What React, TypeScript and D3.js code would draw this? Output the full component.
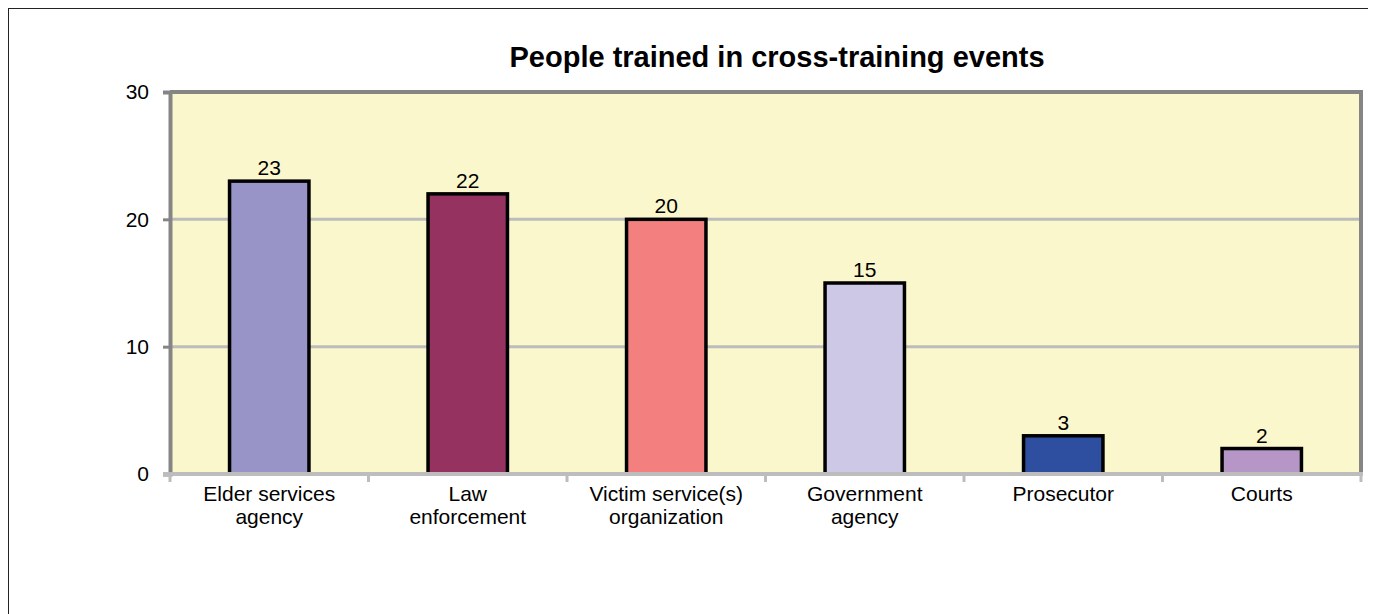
import { useEffect, useRef } from "react";
import * as d3 from "d3";

const categories = [
  "Elder services|agency",
  "Law|enforcement",
  "Victim service(s)|organization",
  "Government|agency",
  "Prosecutor",
  "Courts",
];
const values = [23, 22, 20, 15, 3, 2];
const barColors = ["#9894c8", "#95325f", "#f47f7f", "#ccc8e6", "#2e4ea0", "#b696c6"];
const yTicks = [0, 10, 20, 30];

const width = 1366;
const height = 606;
const margin = { top: 84, right: 13, bottom: 140, left: 162 };
const font = "Liberation Sans, Arial, sans-serif";

const App = () => {
  const svgRef = useRef<SVGSVGElement | null>(null);

  useEffect(() => {
    if (!svgRef.current) return;
    const svg = d3.select(svgRef.current);
    svg.selectAll("*").remove();

    const x0 = margin.left;
    const x1 = width - margin.right;
    const y0 = height - margin.bottom;
    const y1 = margin.top;

    const x = d3.scaleBand<number>().domain(d3.range(categories.length)).range([x0, x1]).paddingInner(0.6).paddingOuter(0.3);
    const band = d3.scaleBand<number>().domain(d3.range(categories.length)).range([x0, x1]);
    const y = d3.scaleLinear().domain([0, 30]).range([y0, y1]);

    // outer frame
    svg.append("rect")
      .attr("x", 0.5).attr("y", 0.5)
      .attr("width", width - 1).attr("height", height + 20)
      .attr("fill", "white").attr("stroke", "#222").attr("stroke-width", 1);

    svg.append("text")
      .attr("x", 769).attr("y", 59)
      .attr("text-anchor", "middle")
      .attr("font-family", font)
      .attr("font-size", 29).attr("font-weight", "bold")
      .text("People trained in cross-training events");

    // plot area
    svg.append("rect")
      .attr("x", x0).attr("y", y1)
      .attr("width", x1 - x0).attr("height", y0 - y1)
      .attr("fill", "#faf7cc");

    // gridlines
    svg.append("g").selectAll("line")
      .data(yTicks.filter((t) => t > 0 && t < 30))
      .join("line")
      .attr("x1", x0).attr("x2", x1)
      .attr("y1", (d) => y(d)).attr("y2", (d) => y(d))
      .attr("stroke", "#bcbcbc").attr("stroke-width", 3);

    // top and right border
    svg.append("path")
      .attr("d", `M${x0},${y1}H${x1}V${y0}`)
      .attr("fill", "none").attr("stroke", "#858585").attr("stroke-width", 4);

    // y axis
    const yAxis = svg.append("g").attr("transform", `translate(${x0},0)`)
      .call(d3.axisLeft(y).tickValues(yTicks).tickSize(7).tickPadding(14));
    yAxis.select(".domain").attr("stroke", "#858585").attr("stroke-width", 4);
    yAxis.selectAll(".tick line").attr("stroke", "#858585").attr("stroke-width", 3);
    yAxis.selectAll(".tick text")
      .attr("font-family", font)
      .attr("font-size", 21).attr("fill", "#000");

    // bars
    svg.append("g").selectAll("rect")
      .data(values)
      .join("rect")
      .attr("x", (_, i) => x(i)!)
      .attr("y", (d) => y(d))
      .attr("width", x.bandwidth())
      .attr("height", (d) => y0 - y(d))
      .attr("fill", (_, i) => barColors[i])
      .attr("stroke", "#000").attr("stroke-width", 3.5);

    // x axis
    svg.append("line")
      .attr("x1", x0 - 7).attr("x2", x1 + 2)
      .attr("y1", y0).attr("y2", y0)
      .attr("stroke", "#bdbdbd").attr("stroke-width", 4);
    svg.append("g").selectAll("line")
      .data(d3.range(categories.length + 1))
      .join("line")
      .attr("x1", (i) => x0 + i * band.bandwidth())
      .attr("x2", (i) => x0 + i * band.bandwidth())
      .attr("y1", y0).attr("y2", y0 + 8)
      .attr("stroke", "#bdbdbd").attr("stroke-width", 3);

    // value labels
    svg.append("g").selectAll("text")
      .data(values)
      .join("text")
      .attr("x", (_, i) => x(i)! + x.bandwidth() / 2)
      .attr("y", (d) => y(d) - 6)
      .attr("text-anchor", "middle")
      .attr("font-family", font)
      .attr("font-size", 21)
      .text((d) => d);

    // category labels
    const labels = svg.append("g").selectAll("text")
      .data(categories)
      .join("text")
      .attr("x", (_, i) => band(i)! + band.bandwidth() / 2)
      .attr("y", y0 + 27)
      .attr("text-anchor", "middle")
      .attr("font-family", font)
      .attr("font-size", 21);
    labels.each(function (d) {
      const t = d3.select(this);
      d.split("|").forEach((line, k) => {
        t.append("tspan")
          .attr("x", t.attr("x"))
          .attr("dy", k === 0 ? 0 : 23)
          .text(line);
      });
    });
  }, []);

  return <svg ref={svgRef} width={width} height={height} style={{ display: "block" }} />;
};

export default App;
